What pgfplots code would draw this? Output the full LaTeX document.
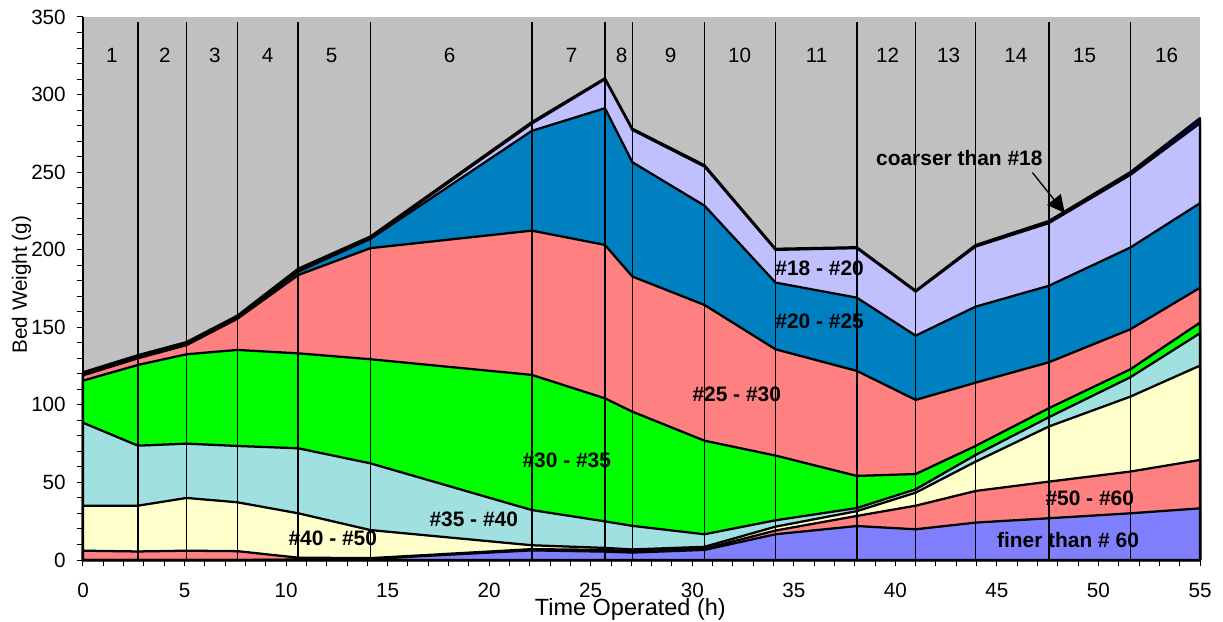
\documentclass[border=0pt]{standalone}
\usepackage{fontspec}
\setmainfont{Liberation Sans}
\usepackage{pgfplots}
\pgfplotsset{compat=1.18}
\usepackage{pgfplotstable}
\usetikzlibrary{arrows.meta}

\definecolor{plotgray}{HTML}{C0C0C0}
\definecolor{finer}{HTML}{8080FF}
\definecolor{salmon}{HTML}{FF8080}
\definecolor{cream}{HTML}{FFFFCC}
\definecolor{paleteal}{HTML}{A0E0E0}
\definecolor{brightgreen}{HTML}{00FF00}
\definecolor{midblue}{HTML}{0080C0}
\definecolor{lavender}{HTML}{C0C0FF}
\definecolor{navy}{HTML}{000080}

% cumulative bed weight (g) by sieve fraction, finest at the bottom
% c1 finer than #60, c2 #50-#60, c3 #40-#50, c4 #35-#40, c5 #30-#35,
% c6 #25-#30, c7 #20-#25, c8 #18-#20, c9 coarser than #18 (total)
\pgfplotstableread{
t     c1    c2    c3     c4     c5     c6     c7     c8     c9
0     0     6.0   35.0   88.5   115.6  119.0  119.8  120.3  121.0
2.70  0     5.5   35.0   73.7   125.7  130.0  130.6  131.0  132.0
5.10  0     6.0   40.0   75.0   132.6  138.5  139.2  139.7  140.5
7.60  0     5.7   37.2   73.5   135.4  155.5  156.2  156.8  157.5
10.60 0.3   1.5   30.1   72.0   133.2  183.7  185.9  186.8  187.8
14.15 0.8   1.2   19.3   62.3   129.4  201.0  207.0  207.7  208.5
22.10 6.2   7.0   9.5    32.2   119.3  212.3  276.6  281.3  282.3
25.70 5.4   6.5   7.8    24.9   104.2  203.1  291.2  309.9  310.5
27.05 4.8   5.6   6.8    22.0   95.6   182.7  256.4  277.2  278.0
30.60 6.5   7.3   8.5    16.6   76.9   164.4  228.4  253.6  254.5
34.10 16.6  19.0  21.5   25.6   67.3   135.8  178.8  199.9  200.6
38.10 21.9  28.4  31.5   33.5   54.2   121.9  169.1  201.0  201.6
41.00 19.8  35.0  43.4   45.6   55.4   103.2  144.6  173.0  173.6
43.95 24.1  44.5  63.4   67.7   73.5   114.3  163.3  202.0  203.0
47.55 26.9  50.5  86.0   92.0   97.8   127.4  176.7  217.1  218.5
51.57 30.1  57.0  105.3  117.8  122.9  148.7  201.4  248.2  250.0
55    33.3  64.5  125.3  146.2  153.0  175.5  230.0  281.5  284.8
}\bedweight

% sampling run boundaries
\pgfplotstableread{
t     h
2.70  346.5
5.10  346.5
7.60  346.5
10.60 346.5
14.15 346.5
22.10 346.5
25.70 346.5
27.05 346.5
30.60 346.5
34.10 346.5
38.10 346.5
41.00 346.5
43.95 346.5
47.55 346.5
51.57 346.5
}\runbreaks

\newcommand{\txt}{\fontsize{15.5}{18}\selectfont}
\newcommand{\lbl}{\fontsize{15.7}{18}\selectfont\bfseries}

\begin{document}
\begin{tikzpicture}
\begin{axis}[
  scale only axis,
  width=837.75pt, height=407.25pt,
  xmin=0, xmax=55, ymin=0, ymax=350,
  axis x line*=bottom, axis y line*=left,
  axis line style={-, black, line width=0.9pt},
  axis background/.style={fill=plotgray},
  xtick={0,5,...,55}, minor x tick num=4,
  ytick={0,50,...,350}, minor y tick num=4,
  tick align=outside,
  major tick length=4.5pt, minor tick length=4.5pt,
  tick style={black, line width=0.75pt},
  /pgf/number format/assume math mode=true,
  ticklabel style={font=\txt},
  xticklabel style={anchor=north, inner sep=0pt, yshift=-12.75pt},
  yticklabel style={anchor=east, inner sep=0pt, xshift=-8.25pt},
  every axis x label/.style={at={(rel axis cs:0.49,0)}, yshift=-41.25pt, anchor=base, font=\fontsize{17.6}{20}\selectfont},
  every axis y label/.style={at={(rel axis cs:0,0.507)}, xshift=-42pt, rotate=90, anchor=base, font=\fontsize{15.5}{18}\selectfont},
  xlabel={Time Operated (h)},
  ylabel={Bed Weight (g)},
  clip=false,
  every axis plot/.append style={line join=round},
]
\coordinate (SW) at (rel axis cs:0,0);
\coordinate (NE) at (rel axis cs:1,1);

% stacked areas, drawn from the top layer downwards
\addplot[fill=navy, draw=black, line width=1.7pt] table[x=t, y=c9] {\bedweight} \closedcycle;
\addplot[fill=lavender, draw=black, line width=1.7pt] table[x=t, y=c8] {\bedweight} \closedcycle;
\addplot[fill=midblue, draw=black, line width=1.7pt] table[x=t, y=c7] {\bedweight} \closedcycle;
\addplot[fill=salmon, draw=black, line width=1.7pt] table[x=t, y=c6] {\bedweight} \closedcycle;
\addplot[fill=brightgreen, draw=black, line width=1.7pt] table[x=t, y=c5] {\bedweight} \closedcycle;
\addplot[fill=paleteal, draw=black, line width=1.7pt] table[x=t, y=c4] {\bedweight} \closedcycle;
\addplot[fill=cream, draw=black, line width=1.7pt] table[x=t, y=c3] {\bedweight} \closedcycle;
\addplot[fill=salmon, draw=black, line width=1.7pt] table[x=t, y=c2] {\bedweight} \closedcycle;
\addplot[fill=finer, draw=black, line width=1.7pt] table[x=t, y=c1] {\bedweight} \closedcycle;

% run boundaries
\addplot[ycomb, black, line width=1.2pt, mark=none] table[x=t, y=h] {\runbreaks};

% run numbers
\node[font=\txt] at (axis cs:1.42,325) {1};
\node[font=\txt] at (axis cs:4.03,325) {2};
\node[font=\txt] at (axis cs:6.49,325) {3};
\node[font=\txt] at (axis cs:9.09,325) {4};
\node[font=\txt] at (axis cs:12.24,325) {5};
\node[font=\txt] at (axis cs:18.05,325) {6};
\node[font=\txt] at (axis cs:24.06,325) {7};
\node[font=\txt] at (axis cs:26.52,325) {8};
\node[font=\txt] at (axis cs:28.93,325) {9};
\node[font=\txt] at (axis cs:32.33,325) {10};
\node[font=\txt] at (axis cs:36.12,325) {11};
\node[font=\txt] at (axis cs:39.62,325) {12};
\node[font=\txt] at (axis cs:42.62,325) {13};
\node[font=\txt] at (axis cs:45.93,325) {14};
\node[font=\txt] at (axis cs:49.32,325) {15};
\node[font=\txt] at (axis cs:53.36,325) {16};

% fraction labels
\node[font=\lbl] at (axis cs:43.15,259.2) {coarser than \#18};
\draw[black, line width=1pt, -{Triangle[length=13pt, width=13pt]}] (axis cs:46.75,249.7) -- (axis cs:48.34,223.7);
\node[font=\lbl] at (axis cs:36.27,188.3) {\#18 - \#20};
\node[font=\lbl] at (axis cs:36.27,154.1) {\#20 - \#25};
\node[font=\lbl] at (axis cs:32.19,107.0) {\#25 - \#30};
\node[font=\lbl] at (axis cs:23.82,64.5) {\#30 - \#35};
\node[font=\lbl] at (axis cs:19.24,26.4) {\#35 - \#40};
\node[font=\lbl] at (axis cs:12.30,14.2) {\#40 - \#50};
\node[font=\lbl] at (axis cs:49.57,40.0) {\#50 - \#60};
\node[font=\lbl] at (axis cs:48.50,12.9) {finer than \# 60};
\end{axis}
\pgfresetboundingbox
\useasboundingbox ([xshift=-62.25pt,yshift=-45.75pt]SW) rectangle ([xshift=17.25pt,yshift=12.75pt]NE);
\end{tikzpicture}
\end{document}
